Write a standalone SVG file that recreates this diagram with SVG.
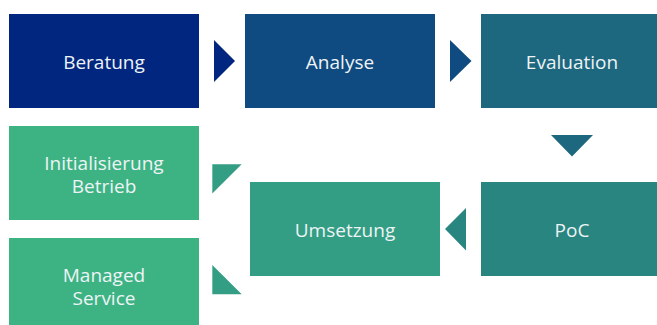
<svg xmlns="http://www.w3.org/2000/svg" width="657" height="325" viewBox="0 0 657 325">
<style>
text{font-family:"Open Sans","Noto Sans","Liberation Sans",sans-serif;font-size:19px;fill:#EEF3F5;text-anchor:middle}
</style>
<rect width="657" height="325" fill="#FFFFFF"/>
<g id="beratung"><rect x="9" y="14" width="190" height="94" fill="#00267F"/><text x="104" y="69">Beratung</text></g>
<g id="analyse"><rect x="245" y="14" width="190" height="94" fill="#0F4A80"/><text x="340" y="69">Analyse</text></g>
<g id="evaluation"><rect x="481" y="14" width="176" height="94" fill="#1D677F"/><text x="572" y="69">Evaluation</text></g>
<g id="initialisierung"><rect x="9" y="126" width="190" height="94" fill="#3DB384"/><text x="104" y="170">Initialisierung<tspan x="104" dy="23">Betrieb</tspan></text></g>
<g id="managed"><rect x="9" y="238" width="190" height="94" fill="#3DB384"/><text x="104" y="282">Managed<tspan x="104" dy="23">Service</tspan></text></g>
<g id="umsetzung"><rect x="250" y="182" width="190" height="94" fill="#339E84"/><text x="345" y="237">Umsetzung</text></g>
<g id="poc"><rect x="481" y="182" width="176" height="94" fill="#288580"/><text x="572" y="237">PoC</text></g>
<g id="connectors">
<polygon points="214,40 235,61 214,82" fill="#00267F"/>
<polygon points="450,40 471.5,61 450,82" fill="#0F4A80"/>
<polygon points="551,135 593,135 572,156.5" fill="#1D677F"/>
<polygon points="466,208 445,229 466,250.5" fill="#288580"/>
<polygon points="212.3,164.3 241.7,164.3 212.3,193.5" fill="#339E84"/>
<polygon points="212.3,265 241.7,294.3 212.3,294.3" fill="#339E84"/>
</g>
</svg>
